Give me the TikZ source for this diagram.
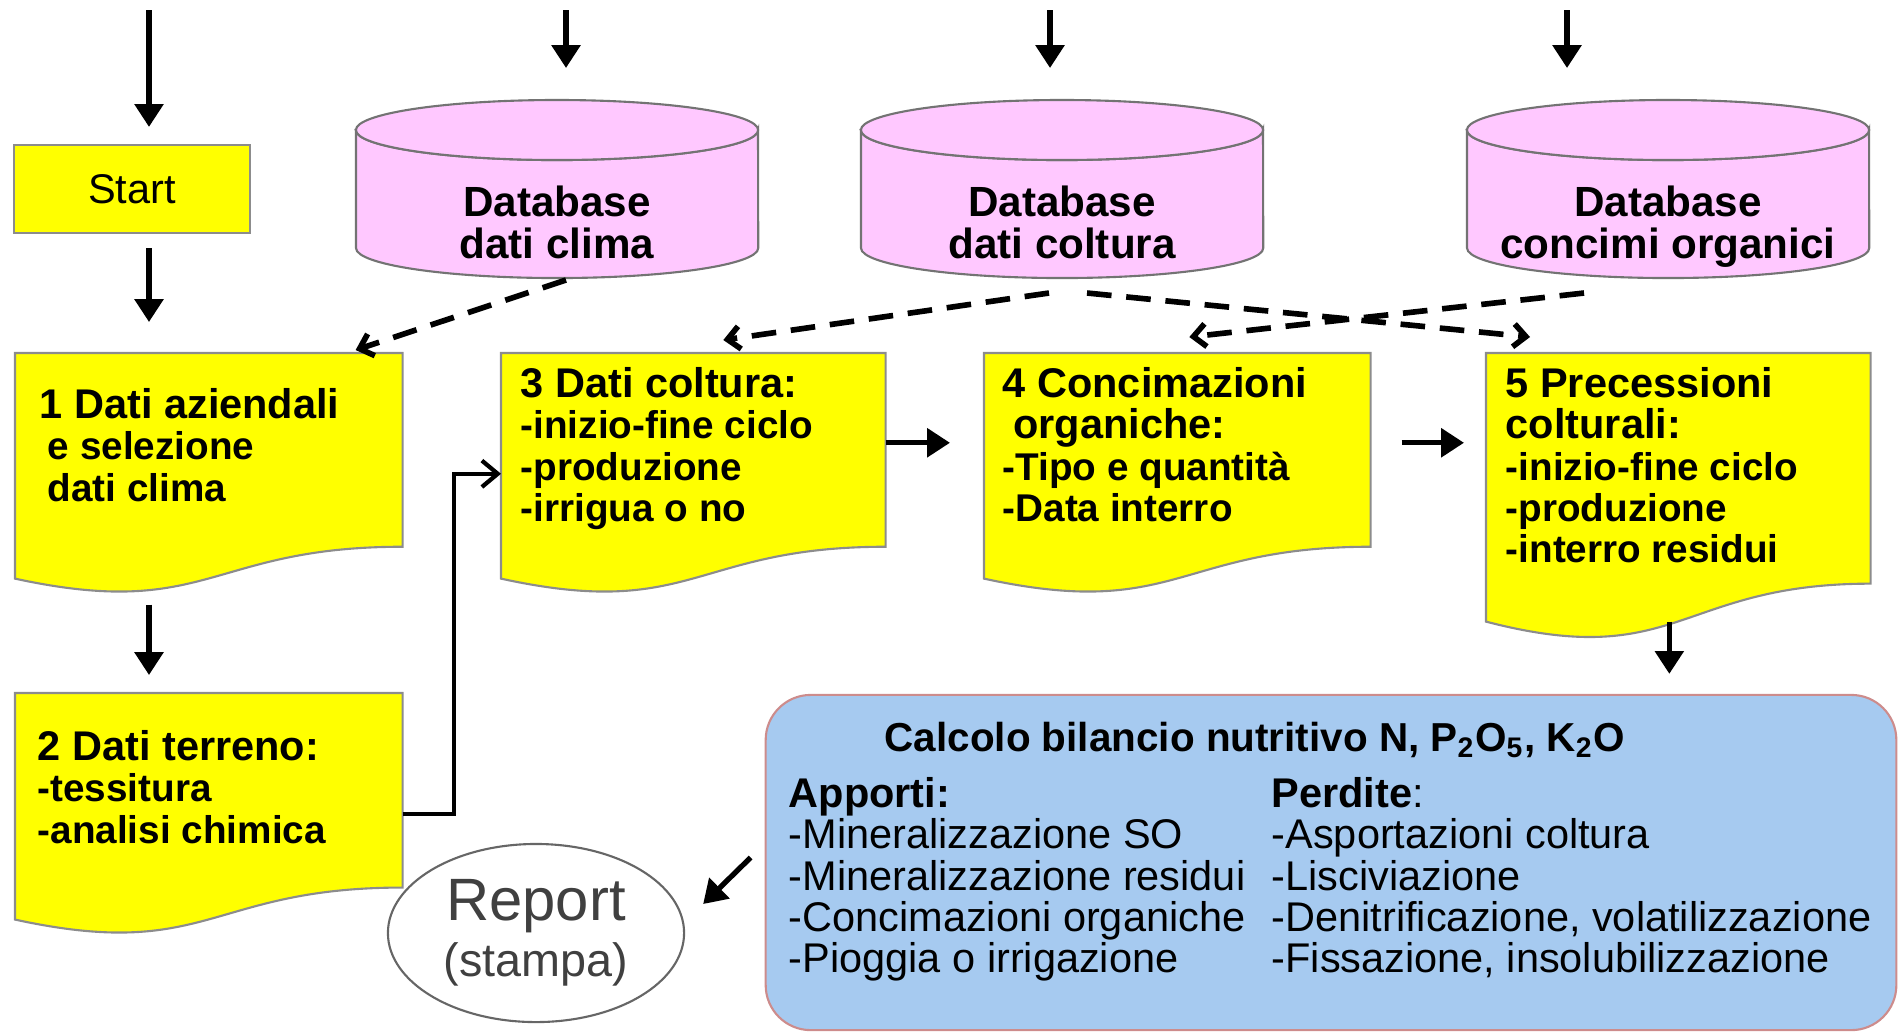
\documentclass[tikz,border=0pt]{standalone}
\usepackage{fontspec}
\setmainfont{Liberation Sans}
\usetikzlibrary{arrows.meta, positioning, calc, shapes.geometric}

\definecolor{docyellow}{RGB}{255,255,0}
\definecolor{dbpink}{RGB}{255,200,255}
\definecolor{calcblue}{RGB}{166,202,240}
\definecolor{calcedge}{RGB}{205,140,140}

\newcommand{\headfont}{\fontsize{11.8}{11.7}\selectfont}
% document outline (wavy bottom) round an empty frame node
\newcommand{\docshape}[1]{%
  \filldraw[docfill] (#1.north west) -- (#1.north east)
    -- ($(#1.south east)!0.198!(#1.north east)$)
    .. controls ($(#1.south)!0.198!(#1.north)$) and ($(#1.south)!-0.108!(#1.north)$)
    .. ($(#1.south west)!0.066!(#1.north west)$) -- cycle;}

\begin{document}
\begin{tikzpicture}[x=0.01cm, y=-0.01cm,
    docfill/.style={fill=docyellow, draw=black!45, line width=0.6pt},
    docframe/.style={rectangle, inner sep=0pt, anchor=north west},
    doctext/.style={anchor=north west, inner sep=0pt, align=left,
                    font=\fontsize{11}{11.7}\selectfont\bfseries},
    startbox/.style={rectangle, fill=docyellow, draw=black!45, line width=0.6pt,
                     minimum width=2.36cm, minimum height=0.88cm,
                     font=\fontsize{11.8}{12}\selectfont},
    dbfill/.style={fill=dbpink, draw=black!55, line width=0.6pt},
    dbtext/.style={anchor=north, inner sep=0pt, align=center,
                   font=\fontsize{12}{11.9}\selectfont\bfseries},
    calcbox/.style={rectangle, rounded corners=0.45cm, fill=calcblue,
                    draw=calcedge, line width=0.6pt,
                    minimum width=11.30cm, minimum height=3.35cm},
    calctext/.style={anchor=north west, inner sep=0pt, align=left,
                     font=\fontsize{11.8}{11.7}\selectfont},
    reportnode/.style={ellipse, draw=black!60, line width=0.6pt, fill=white,
                       minimum width=2.96cm, minimum height=1.78cm, inner sep=0pt,
                       align=center, text=black!75, font=\fontsize{13.3}{16}\selectfont},
    arr/.style={line width=1.5pt, -{Triangle[length=6.5pt, width=8pt]}},
    elbow/.style={line width=1.2pt, -{Straight Barb[length=4.5pt, width=7.5pt]}},
    dasharr/.style={line width=1.6pt, dash pattern=on 7pt off 4.2pt,
                    -{Straight Barb[length=3.5pt, width=6.5pt]}},
]
\useasboundingbox (0,0) rectangle (1898,1035);

% databases
\foreach \nm/\cx/\txt in {dbclima/557/dati clima, dbcoltura/1062/dati coltura,
                          dbconcimi/1668/concimi organici}{
  \filldraw[dbfill] (\cx-201,130) -- (\cx-201,248)
    arc[start angle=180, end angle=360, x radius=2.01cm, y radius=0.3cm]
    -- (\cx+201,130)
    arc[start angle=0, end angle=-180, x radius=2.01cm, y radius=0.3cm] -- cycle;
  \filldraw[dbfill] (\cx,130) ellipse[x radius=2.01cm, y radius=0.3cm];
  \coordinate (\nm-top) at (\cx,100);
  \node[dbtext] (\nm) at (\cx,185) {Database\\\txt};
}

% start and input boxes
\node[startbox] (start) at (132,189) {Start};
\node[docframe, minimum width=3.86cm, minimum height=2.40cm] (b1) at (15,353) {};
\node[docframe, minimum width=3.86cm, minimum height=2.41cm] (b2) at (15,693) {};
\node[docframe, minimum width=3.83cm, minimum height=2.40cm] (b3) at (501,353) {};
\node[docframe, minimum width=3.85cm, minimum height=2.40cm] (b4) at (984,353) {};
\node[docframe, minimum width=3.83cm, minimum height=2.86cm] (b5) at (1486,353) {};
\foreach \b in {b1,b2,b3,b4,b5} {\docshape{\b}}

\node[doctext] (t1) at (39,388) {{\headfont 1 Dati aziendali}\\
  \hspace*{2.3pt}e selezione\\\hspace*{2.3pt}dati clima};
\node[doctext] (t2) at (37,730) {{\headfont 2 Dati terreno:}\\-tessitura\\-analisi chimica};
\node[doctext] (t3) at (520,367) {{\headfont 3 Dati coltura:}\\-inizio-fine ciclo\\
  -produzione\\-irrigua o no};
\node[doctext] (t4) at (1002,367) {{\headfont 4 Concimazioni}\\
  {\headfont\hspace*{3pt}organiche:}\\-Tipo e quantità\\-Data interro};
\node[doctext] (t5) at (1505,367) {{\headfont 5 Precessioni}\\{\headfont colturali:}\\
  -inizio-fine ciclo\\-produzione\\-interro residui};

% balance and report
\node[calcbox] (bilancio) at (1331,862.5) {};
\node[anchor=base west, inner sep=0pt, font=\fontsize{11.5}{11.7}\selectfont\bfseries]
  (bilanciotitle) at (884,751)
  {Calcolo bilancio nutritivo N, P\textsubscript{2}O\textsubscript{5}, K\textsubscript{2}O};
\node[calctext] (apporti) at (788,777) {\textbf{Apporti:}\\-Mineralizzazione SO\\
  -Mineralizzazione residui\\-Concimazioni organiche\\-Pioggia o irrigazione};
\node[calctext] (perdite) at (1271,777) {\textbf{Perdite}:\\-Asportazioni coltura\\
  -Lisciviazione\\-Denitrificazione, volatilizzazione\\-Fissazione, insolubilizzazione};
\node[reportnode] (report) at (536,933)
  {{\fontsize{17}{16}\selectfont Report}\\(stampa)};

% inputs from above
\coordinate (in0) at (149,10);
\coordinate (in1) at (566,10);
\coordinate (in2) at (1050,10);
\coordinate (in3) at (1567,10);
\draw[arr, shorten >=0.17cm] (in0) -- (in0 |- start.north);
\draw[arr, shorten >=0.32cm] (in1) -- (in1 |- dbclima-top);
\draw[arr, shorten >=0.32cm] (in2) -- (in2 |- dbcoltura-top);
\draw[arr, shorten >=0.32cm] (in3) -- (in3 |- dbconcimi-top);

% main flow
\draw[arr, shorten <=0.14cm, shorten >=0.31cm] (start.south -| in0) -- (b1.north -| in0);
\draw[arr, shorten <=0.10cm, shorten >=0.18cm] (b1.south -| in0) -- (b2.north -| in0);
\draw[elbow] (b2.east) -- ++(51,0) |- (b3.west);
\coordinate (b3out) at ([yshift=0.31cm]b3.east);
\coordinate (b4out) at ([yshift=0.31cm]b4.east);
\draw[arr, shorten >=0.34cm] (b3out) -- (b3out -| b4.west);
\draw[arr, shorten <=0.31cm, shorten >=0.22cm] (b4out) -- (b4out -| b5.west);
\coordinate (b5out) at ($(b5.south)+(-9,-19)$);
\draw[arr, shorten >=0.2cm] (b5out) -- (b5out |- bilancio.north);
\draw[arr] ([shift={(-14,-5)}]bilancio.west) -- ([shift={(18,-29)}]report.east);

% database links
\draw[dasharr] ([shift={(9,95)}]dbclima.north) -- ([shift={(-47,-3)}]b1.north east);
\draw[dasharr] ([shift={(-13,108)}]dbcoltura.north) -- ([shift={(30,-13)}]b3.north);
\draw[dasharr] ([shift={(25,108)}]dbcoltura.north) -- ([shift={(44,-16)}]b5.north west);
\draw[dasharr] ([shift={(-84,108)}]dbconcimi.north) -- ([shift={(12,-16)}]b4.north);
\end{tikzpicture}
\end{document}
